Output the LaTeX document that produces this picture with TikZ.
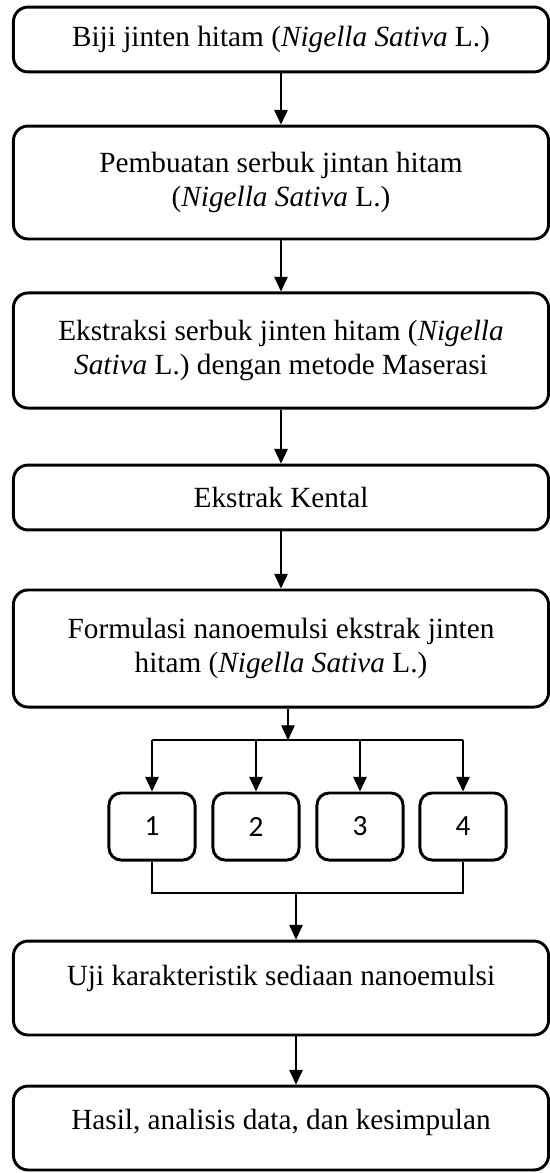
\documentclass[tikz,border=0pt]{standalone}
\usepackage{fontspec}
\setmainfont{Liberation Serif}
\newfontfamily\numfont{Carlito}
\usetikzlibrary{arrows.meta}

\def\boxwidth{219.4pt}
\def\textsize{\fontsize{12}{13.8}\selectfont}

\begin{document}
\begin{tikzpicture}[x=0.41pt, y=-0.41pt,
    nodes = {font=\textsize, align=center, inner sep=0pt},
    stepbox/.style = {draw, line width=1.2pt, rounded corners=6pt,
      minimum width=\boxwidth},
    numbox/.style = {draw, line width=1.2pt, rounded corners=5pt,
      minimum width=35.3pt, minimum height=27.5pt, font=\numfont\fontsize{12}{14}\selectfont},
    arr/.style = {line width=0.5pt, -{Triangle[width=5.5pt,length=6pt]}}]
  \useasboundingbox (0,0) rectangle (550,1173);

  % main steps
  \node[stepbox, minimum height=26.6pt] (b1) at (281,39.5)
    {Biji jinten hitam (\textit{Nigella Sativa} L.)};
  \node[stepbox, minimum height=46.3pt] (b2) at (281,182.5)
    {Pembuatan serbuk jintan hitam\\(\textit{Nigella Sativa} L.)};
  \node[stepbox, minimum height=47.2pt] (b3) at (281,350.5)
    {Ekstraksi serbuk jinten hitam (\textit{Nigella}\\\textit{Sativa} L.) dengan metode Maserasi};
  \node[stepbox, minimum height=26.6pt] (b4) at (281,497.5) {Ekstrak Kental};
  \node[stepbox, minimum height=48pt] (b5) at (281,648.5)
    {Formulasi nanoemulsi ekstrak jinten\\hitam (\textit{Nigella Sativa} L.)};
  \node[stepbox, minimum height=38.5pt, text depth=10.5pt] (b6) at (281,988)
    {Uji karakteristik sediaan nanoemulsi};
  \node[stepbox, minimum height=34.4pt, text depth=7.5pt] (b7) at (281,1128)
    {Hasil, analisis data, dan kesimpulan};

  % formula boxes
  \foreach \num/\xpos in {1/152, 2/256, 3/360, 4/463}
    \node[numbox] (s\num) at (\xpos,826.5) {\num};

  \coordinate (fork) at (288,740);
  \coordinate (join) at (296,893);

  \draw[arr] (b1) -- (b2);
  \draw[arr] (b2) -- (b3);
  \draw[arr] (b3) -- (b4);
  \draw[arr] (b4) -- (b5);
  \draw[arr] (b5.south -| fork) -- (fork);
  \draw[line width=0.5pt] (s1.north |- fork) -- (s4.north |- fork);
  \foreach \num in {1,...,4}
    \draw[arr] (s\num.north |- fork) -- (s\num);
  \draw[line width=0.5pt] (s1) -- (s1 |- join) -- (s4 |- join) -- (s4);
  \draw[arr] (join) -- (b6.north -| join);
  \draw[arr] (b6.south -| join) -- (b7.north -| join);
\end{tikzpicture}
\end{document}
